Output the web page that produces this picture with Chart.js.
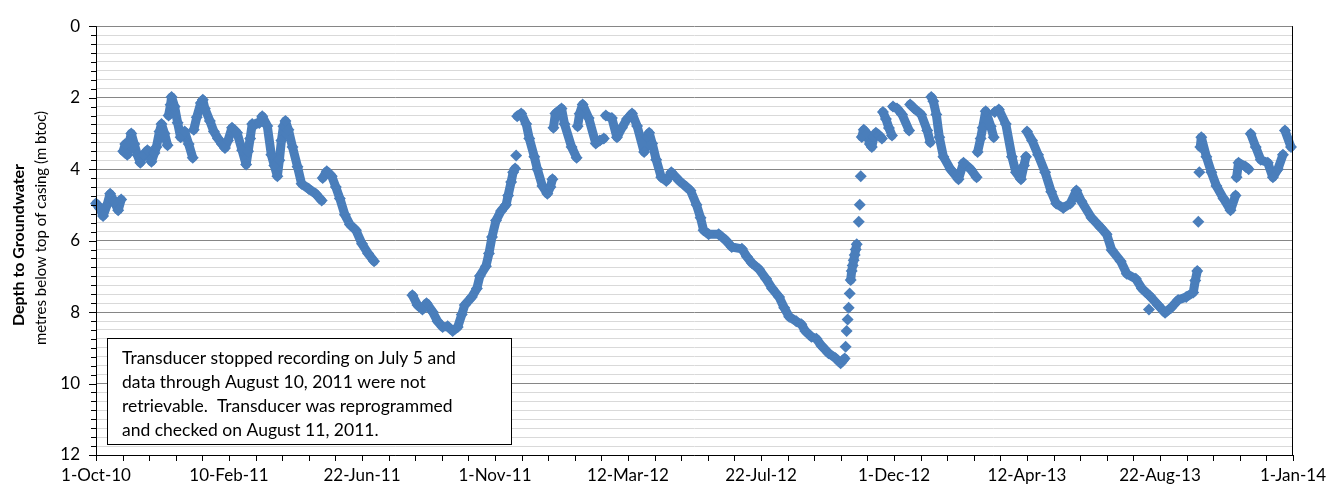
<!DOCTYPE html>
<html>
<head>
<meta charset="utf-8">
<script src="https://cdn.jsdelivr.net/npm/chart.js@4.4.1/dist/chart.umd.min.js"></script>
<style>
  body { margin: 0; background: #fff; }
  #wrap { width: 1343px; height: 493px; position: relative; }
</style>
</head>
<body>
<div id="wrap"><canvas id="Chart"></canvas></div>
<script>
// days since 1-Oct-2010 and depth to groundwater (m btoc)
const days = [
  0, 4, 7, 11, 14, 18, 22, 25, 27, 29, 31, 33, 35, 38, 41, 44, 47, 51, 55, 58,
  60, 63, 65, 68, 71, 72, 74, 75, 78, 81, 84, 88, 92, 96, 97, 100, 104, 106, 108, 113,
  117, 121, 125, 128, 131, 135, 140, 145, 149, 151, 153, 155, 158, 162, 165, 170, 174, 177, 180, 182,
  184, 186, 188, 191, 195, 200, 204, 211, 218, 224, 225, 229, 234, 238, 242, 247, 252, 258, 264, 270,
  276,
  314, 319, 324, 328, 334, 339, 344, 349, 354, 359, 363, 366, 373, 378, 381, 387, 390, 393, 397, 402,
  407, 409, 412, 414, 416, 417, 418, 422, 427, 430, 435, 438, 443, 448, 451, 453, 454, 456, 462, 465,
  472, 477, 478, 480, 483, 489, 496, 500, 504, 506, 512, 517, 522, 527, 532, 537, 544, 547, 549, 552,
  556, 561, 566, 571, 579, 586, 590, 596, 600, 603, 608, 618, 625, 631, 641, 646, 651, 658, 665, 671,
  678, 683, 688, 695, 700, 704, 710, 715, 720, 727, 734, 739, 743, 744, 745, 746, 747, 748, 749, 750,
  751, 752, 753, 754, 755, 757, 758, 759, 760, 762, 765, 768, 770, 772, 774, 777, 780, 781, 784, 787,
  790, 791, 795, 800, 807, 808, 812, 819, 825, 828, 829, 831, 834, 837, 841, 848, 856, 861, 868, 874,
  875, 878, 880, 883, 888, 891, 892, 896, 903, 909, 913, 918, 921, 923, 924, 929, 935, 942, 948, 953,
  960, 967, 973, 978, 988, 997, 1003, 1008, 1017, 1023, 1032, 1038, 1044, 1045, 1046, 1054, 1061, 1067, 1074, 1082,
  1089, 1091, 1093, 1094, 1095, 1096, 1097, 1102, 1107, 1112, 1119, 1126, 1131, 1132, 1134, 1141, 1144, 1146, 1151, 1156,
  1163, 1168, 1173, 1178, 1180, 1186
];
const depth = [
  4.96, 5.1, 5.31, 5.0, 4.69, 4.9, 5.15, 4.85, 3.5, 3.3, 3.6, 3.25, 3.0, 3.3, 3.6, 3.82, 3.6, 3.47, 3.79, 3.55,
  3.38, 2.95, 2.74, 3.0, 3.33, 2.5, 2.2, 1.98, 2.25, 2.7, 3.11, 2.95, 3.3, 3.68, 2.9, 2.55, 2.15, 2.06, 2.3, 2.65,
  2.95, 3.14, 3.3, 3.41, 3.2, 2.84, 2.98, 3.47, 3.87, 3.5, 3.14, 2.74, 2.75, 2.71, 2.52, 2.79, 3.6, 3.9, 4.2, 3.75,
  3.2, 2.8, 2.65, 2.9, 3.38, 3.93, 4.41, 4.55, 4.69, 4.88, 4.25, 4.06, 4.2, 4.5, 4.82, 5.28, 5.55, 5.71, 6.09, 6.36,
  6.58,
  7.53, 7.8, 7.93, 7.75, 7.99, 8.26, 8.42, 8.40, 8.53, 8.42, 8.07, 7.8, 7.58, 7.34, 6.99, 6.72, 6.36, 5.9, 5.44, 5.17,
  5.0, 4.74, 4.36, 4.09, 3.98, 3.62, 2.52, 2.44, 2.74, 3.14, 3.65, 4.0, 4.47, 4.69, 4.5, 4.28, 2.84, 2.44, 2.30, 2.74,
  3.38, 3.68, 2.8, 2.45, 2.19, 2.57, 3.28, 3.2, 3.14, 2.5, 2.57, 3.11, 2.84, 2.60, 2.44, 2.79, 3.52, 3.1, 2.98, 3.28,
  3.74, 4.23, 4.33, 4.09, 4.33, 4.5, 4.6, 5.0, 5.36, 5.71, 5.82, 5.82, 5.99, 6.18, 6.23, 6.45, 6.63, 6.8, 7.07, 7.34,
  7.58, 7.88, 8.13, 8.26, 8.34, 8.53, 8.69, 8.75, 8.94, 9.15, 9.29, 9.43, 9.3, 8.97, 8.53, 8.21, 7.88, 7.48, 7.1, 6.85,
  6.7, 6.55, 6.4, 6.25, 6.1, 5.47, 5.0, 4.2, 3.1, 2.9, 3.0, 3.3, 3.38, 3.1, 2.98, 3.05, 3.14, 2.4, 2.6, 2.85,
  3.06, 2.25, 2.3, 2.47, 2.92, 2.19, 2.3, 2.47, 2.92, 3.25, 1.98, 2.1, 2.47, 3.11, 3.65, 4.0, 4.28, 3.82, 4.0, 4.23,
  3.52, 3.14, 2.84, 2.38, 2.8, 3.11, 2.4, 2.33, 2.74, 3.65, 4.09, 4.28, 3.9, 3.65, 2.95, 3.2, 3.6, 4.09, 4.63, 4.96,
  5.09, 4.96, 4.6, 4.9, 5.36, 5.63, 5.82, 6.26, 6.58, 6.93, 7.07, 7.34, 7.5, 7.93, 7.55, 7.8, 8.02, 7.88, 7.66, 7.58,
  7.45, 7.12, 6.85, 5.47, 4.09, 3.38, 3.11, 3.65, 4.09, 4.47, 4.82, 5.15, 4.74, 4.23, 3.82, 3.93, 4.0, 3.01, 3.38, 3.74,
  3.82, 4.23, 4.0, 3.6, 2.92, 3.38
];

// x axis tick labels (every 132 days)
const tickDays = [0, 132, 264, 396, 528, 660, 792, 924, 1056, 1188];
const tickLabels = ['1-Oct-10', '10-Feb-11', '22-Jun-11', '1-Nov-11', '12-Mar-12',
  '22-Jul-12', '1-Dec-12', '12-Apr-13', '22-Aug-13', '1-Jan-14'];

const noteLines = [
  'Transducer stopped recording on July 5 and',
  'data through August 10, 2011 were not',
  'retrievable.  Transducer was reprogrammed',
  'and checked on August 11, 2011.'
];

const blue = '#4a7ebb';
const fontFam = 'Lato, "Noto Sans", sans-serif';

// daily band: only join neighbours that are close in time and depth
function joinColor(ctx) {
  const a = ctx.p0.parsed, b = ctx.p1.parsed;
  const dd = b.x - a.x;
  if (dd > 10 || Math.abs(b.y - a.y) / dd > 0.28) return 'rgba(0,0,0,0)';
  return blue;
}

const extras = {
  id: 'extras',
  afterDraw(chart) {
    const ctx = chart.ctx;
    const x = chart.scales.x, y = chart.scales.y;
    const a = chart.chartArea;
    ctx.save();
    ctx.strokeStyle = '#000';
    ctx.lineWidth = 1;
    // y tick marks, every 0.25
    for (let v = 0; v <= 12.001; v += 0.25) {
      const py = Math.round(y.getPixelForValue(v)) + 0.5;
      const len = (Math.abs(v % 2) < 0.001) ? 7 : 5;
      ctx.beginPath();
      ctx.moveTo(a.left - len, py);
      ctx.lineTo(a.left, py);
      ctx.stroke();
    }
    // x tick marks, 5 per label step
    for (let d = 0; d <= 1188.01; d += 26.4) {
      const px = Math.round(x.getPixelForValue(d)) + 0.5;
      ctx.beginPath();
      ctx.moveTo(px, a.bottom);
      ctx.lineTo(px, a.bottom + 6);
      ctx.stroke();
    }
    // axis lines and right border
    ctx.beginPath();
    ctx.moveTo(Math.round(a.left) + 0.5, a.top);
    ctx.lineTo(Math.round(a.left) + 0.5, a.bottom);
    ctx.moveTo(a.left, Math.round(a.bottom) + 0.5);
    ctx.lineTo(a.right, Math.round(a.bottom) + 0.5);
    ctx.moveTo(Math.round(a.right) - 0.5, a.top);
    ctx.lineTo(Math.round(a.right) - 0.5, a.bottom);
    ctx.stroke();

    // note box
    ctx.fillStyle = '#fff';
    ctx.fillRect(107, 338, 404, 106);
    ctx.strokeRect(107.5, 338.5, 404, 106);
    ctx.fillStyle = '#000';
    ctx.font = '17.5px ' + fontFam;
    ctx.textBaseline = 'middle';
    ctx.textAlign = 'left';
    noteLines.forEach((t, i) => ctx.fillText(t, 122, 358 + i * 24));

    // y axis titles
    ctx.translate(19, 245);
    ctx.rotate(-Math.PI / 2);
    ctx.textAlign = 'center';
    ctx.font = 'bold 16px ' + fontFam;
    ctx.fillText('Depth to Groundwater', 0, 0);
    ctx.font = '15px ' + fontFam;
    ctx.fillText('metres below top of casing (m btoc)', 17, 22);
    ctx.restore();
  }
};

const lineCtx = document.getElementById('Chart');
const lineChart = new Chart(lineCtx, {
  type: 'scatter',
  data: {
    datasets: [{
      data: days.map((d, i) => ({ x: d, y: depth[i] })),
      showLine: true,
      borderWidth: 9,
      borderColor: blue,
      borderJoinStyle: 'round',
      borderCapStyle: 'round',
      segment: { borderColor: joinColor },
      pointStyle: 'rectRot',
      pointRadius: 6,
      pointBorderWidth: 0,
      pointBackgroundColor: blue,
      pointBorderColor: blue,
      clip: 8
    }]
  },
  options: {
    responsive: true,
    maintainAspectRatio: false,
    animation: false,
    layout: { padding: { top: 12, right: 50, left: 0, bottom: 0 } },
    plugins: { legend: { display: false }, tooltip: { enabled: false } },
    scales: {
      x: {
        type: 'linear',
        min: 0,
        max: 1188,
        afterBuildTicks: s => { s.ticks = tickDays.map(v => ({ value: v })); },
        afterFit: s => { s.height = 38; },
        ticks: {
          callback: (v, i) => tickLabels[i],
          maxRotation: 0,
          autoSkip: false,
          padding: 10,
          color: '#000',
          font: { family: fontFam, size: 17 }
        },
        grid: { display: false, drawTicks: false },
        border: { display: false }
      },
      y: {
        min: 0,
        max: 12,
        reverse: true,
        afterBuildTicks: s => {
          const t = [];
          for (let v = 0; v <= 12; v += 0.25) t.push({ value: v });
          s.ticks = t;
        },
        afterFit: s => { s.width = 96; },
        ticks: {
          callback: v => (v % 2 === 0 ? v : ''),
          autoSkip: false,
          padding: 16,
          color: '#000',
          font: { family: fontFam, size: 17 }
        },
        grid: {
          drawTicks: false,
          color: c => (c.tick && c.tick.value % 2 === 0 ? '#868686' : '#d9d9d9'),
          lineWidth: 1
        },
        border: { display: false }
      }
    }
  },
  plugins: [extras]
});
</script>
</body>
</html>
